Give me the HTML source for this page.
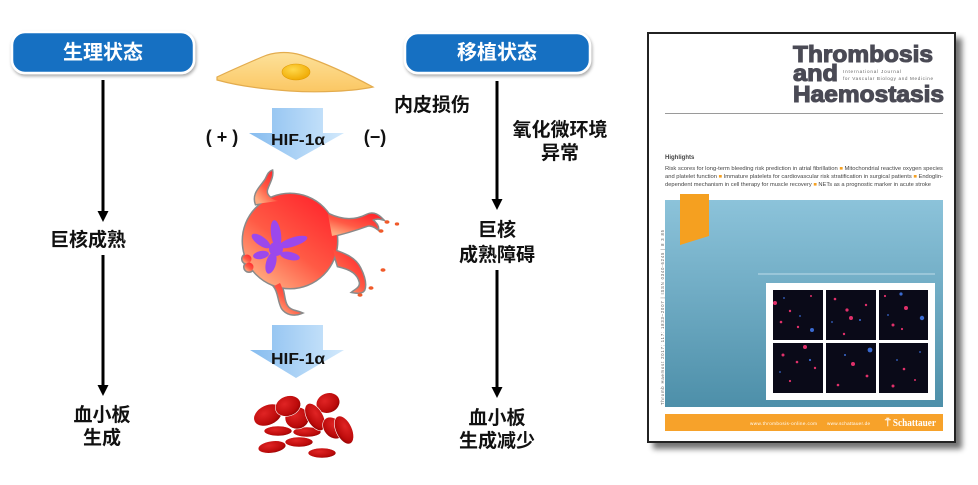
<!DOCTYPE html>
<html><head><meta charset="utf-8">
<style>
html,body{margin:0;padding:0;background:#fff;}
svg{display:block;}
.cn{font-family:"Liberation Sans","Noto Sans CJK SC",sans-serif;font-weight:700;}
</style></head>
<body>
<svg width="978" height="485" viewBox="0 0 978 485" xmlns="http://www.w3.org/2000/svg">
<defs>
  <linearGradient id="hif" x1="0" y1="0" x2="1" y2="0">
    <stop offset="0" stop-color="#86bcef"/>
    <stop offset="1" stop-color="#d2e9fc"/>
  </linearGradient>
  <linearGradient id="cellg" x1="0" y1="0" x2="0" y2="1">
    <stop offset="0" stop-color="#fde19a"/>
    <stop offset="1" stop-color="#fbc763"/>
  </linearGradient>
  <radialGradient id="nuc" cx="0.4" cy="0.35" r="0.7">
    <stop offset="0" stop-color="#ffd84a"/>
    <stop offset="1" stop-color="#efa800"/>
  </radialGradient>
  <linearGradient id="mkg" x1="0.85" y1="0.1" x2="0.2" y2="0.95">
    <stop offset="0" stop-color="#ff2a2e"/>
    <stop offset="0.55" stop-color="#ff5a45"/>
    <stop offset="1" stop-color="#ffab80"/>
  </linearGradient>
  <radialGradient id="rbc" cx="0.4" cy="0.35" r="0.75">
    <stop offset="0" stop-color="#e02424"/>
    <stop offset="0.7" stop-color="#bb0a0a"/>
    <stop offset="1" stop-color="#7e0000"/>
  </radialGradient>
  <linearGradient id="panel" x1="0" y1="0" x2="0" y2="1">
    <stop offset="0" stop-color="#8cc3da"/>
    <stop offset="1" stop-color="#4d8fa9"/>
  </linearGradient>
  <filter id="sh" x="-10%" y="-10%" width="130%" height="130%">
    <feGaussianBlur in="SourceAlpha" stdDeviation="3"/>
    <feOffset dx="6" dy="6" result="b"/>
    <feComponentTransfer><feFuncA type="linear" slope="0.55"/></feComponentTransfer>
    <feMerge><feMergeNode/><feMergeNode in="SourceGraphic"/></feMerge>
  </filter>
  <filter id="bsh" x="-10%" y="-20%" width="120%" height="150%">
    <feGaussianBlur in="SourceAlpha" stdDeviation="1.5"/>
    <feOffset dx="1" dy="2"/>
    <feComponentTransfer><feFuncA type="linear" slope="0.35"/></feComponentTransfer>
    <feMerge><feMergeNode/><feMergeNode in="SourceGraphic"/></feMerge>
  </filter>
  <g id="mk">
    <circle cx="290" cy="241" r="47"/>
    <path d="M256,204 C252,193 262,186 266,179 C268,175 269,172 272,171 C273,177 269,183 267,189 C265,195 270,199 278,201 Z"/>
    <path d="M328,214 C343,221 355,221 367,215 C373,212 378,215 382,219 C378,218 375,218 372,220 C376,223 378,226 378,229 C374,226 370,224 366,226 C355,230 345,233 332,236 Z"/>
    <path d="M333,250 C345,254 355,258 360,268 C365,278 366,285 364,290 C362,293 358,293 353,292 C357,289 361,287 360,282 C358,274 352,269 338,266 Z"/>
    <path d="M280,283 C285,292 283,300 287,306 C290,311 296,311 301,313 C294,316 286,314 282,308 C278,300 279,292 274,286 Z"/>
    <circle cx="247" cy="259" r="4.5"/>
    <circle cx="249" cy="267" r="4.5"/>
  </g>
</defs>

<!-- Left button -->
<g filter="url(#bsh)">
  <rect x="12" y="32" width="182" height="41" rx="13" fill="#1670c2" stroke="#ffffff" stroke-width="2.5"/>
</g>
<text x="103" y="59" class="cn" font-size="20" fill="#fff" text-anchor="middle">生理状态</text>

<!-- Right button -->
<g filter="url(#bsh)">
  <rect x="405" y="33" width="185" height="40" rx="13" fill="#1670c2" stroke="#ffffff" stroke-width="2.5"/>
</g>
<text x="497" y="59" class="cn" font-size="20" fill="#fff" text-anchor="middle">移植状态</text>

<!-- Left flow -->
<line x1="103" y1="80" x2="103" y2="213" stroke="#000" stroke-width="3"/>
<polygon points="97.5,211 108.5,211 103,222" fill="#000"/>
<text x="88" y="246" class="cn" font-size="19" fill="#111" text-anchor="middle">巨核成熟</text>
<line x1="103" y1="255" x2="103" y2="387" stroke="#000" stroke-width="3"/>
<polygon points="97.5,385 108.5,385 103,396" fill="#000"/>
<text x="102" y="421" class="cn" font-size="19" fill="#111" text-anchor="middle">血小板</text>
<text x="102" y="444" class="cn" font-size="19" fill="#111" text-anchor="middle">生成</text>

<!-- Right flow -->
<line x1="497" y1="81" x2="497" y2="201" stroke="#000" stroke-width="3"/>
<polygon points="491.5,199 502.5,199 497,210" fill="#000"/>
<text x="497" y="236" class="cn" font-size="19" fill="#111" text-anchor="middle">巨核</text>
<text x="497" y="261" class="cn" font-size="19" fill="#111" text-anchor="middle">成熟障碍</text>
<line x1="497" y1="270" x2="497" y2="389" stroke="#000" stroke-width="3"/>
<polygon points="491.5,387 502.5,387 497,398" fill="#000"/>
<text x="497" y="424" class="cn" font-size="19" fill="#111" text-anchor="middle">血小板</text>
<text x="497" y="447" class="cn" font-size="19" fill="#111" text-anchor="middle">生成减少</text>

<text x="432" y="111" class="cn" font-size="19" fill="#111" text-anchor="middle">内皮损伤</text>
<text x="560" y="136" class="cn" font-size="19" fill="#111" text-anchor="middle">氧化微环境</text>
<text x="560" y="159" class="cn" font-size="19" fill="#111" text-anchor="middle">异常</text>

<!-- Endothelial cell -->
<path d="M217,77 C232,70 248,63 262,57 C273,52 287,51 301,55 C322,62 347,73 373,87 C355,91 320,93 290,91 C260,89 235,85 217,80 Z" fill="url(#cellg)" stroke="#e3ac4e" stroke-width="1.2"/>
<ellipse cx="296" cy="72" rx="14" ry="8" fill="url(#nuc)" stroke="#e09a00" stroke-width="0.6"/>

<!-- HIF arrow 1 -->
<polygon points="272,108 323,108 323,133 344,133 296,160 249,133 272,133" fill="url(#hif)"/>
<text x="298" y="145" font-family="Liberation Sans, sans-serif" font-weight="700" font-size="16" fill="#111" text-anchor="middle" textLength="54" lengthAdjust="spacingAndGlyphs">HIF-1α</text>
<text x="222" y="143" font-family="Liberation Sans, sans-serif" font-weight="700" font-size="18" fill="#111" text-anchor="middle">( + )</text>
<text x="375" y="143" font-family="Liberation Sans, sans-serif" font-weight="700" font-size="18" fill="#111" text-anchor="middle">(−)</text>

<!-- Megakaryocyte -->
<use href="#mk" fill="none" stroke="#8a8a8a" stroke-width="3"/>
<use href="#mk" fill="url(#mkg)" stroke="none"/>
<g fill="#9b48ec">
  <ellipse cx="276" cy="234" rx="5" ry="14" transform="rotate(-8 276 234)"/>
  <ellipse cx="293" cy="242" rx="15" ry="4.5" transform="rotate(-18 293 242)"/>
  <ellipse cx="290" cy="256" rx="10" ry="4" transform="rotate(12 290 256)"/>
  <ellipse cx="271" cy="263" rx="5" ry="11" transform="rotate(15 271 263)"/>
  <ellipse cx="261" cy="241" rx="11" ry="4.5" transform="rotate(35 261 241)"/>
  <ellipse cx="261" cy="255" rx="8" ry="4" transform="rotate(-10 261 255)"/>
  <circle cx="276" cy="249" r="7"/>
</g>
<g fill="#f05a2a">
  <ellipse cx="387" cy="222" rx="2.5" ry="1.8"/>
  <ellipse cx="397" cy="224" rx="2.2" ry="1.6"/>
  <ellipse cx="381" cy="231" rx="2.5" ry="1.8"/>
  <ellipse cx="383" cy="270" rx="2.5" ry="1.8"/>
  <ellipse cx="371" cy="288" rx="2.5" ry="1.8"/>
  <ellipse cx="360" cy="295" rx="2.5" ry="1.8"/>
</g>

<!-- HIF arrow 2 -->
<polygon points="272,325 323,325 323,350 344,350 296,378 250,350 272,350" fill="url(#hif)"/>
<text x="298" y="364" font-family="Liberation Sans, sans-serif" font-weight="700" font-size="16" fill="#111" text-anchor="middle" textLength="54" lengthAdjust="spacingAndGlyphs">HIF-1α</text>

<!-- RBCs -->
<g fill="url(#rbc)" stroke="#fff" stroke-width="0.6">
  <ellipse cx="272" cy="447" rx="14" ry="6" transform="rotate(-8 272 447)"/>
  <ellipse cx="299" cy="442" rx="14" ry="5"/>
  <ellipse cx="322" cy="453" rx="14" ry="5"/>
  <ellipse cx="278" cy="431" rx="14" ry="5"/>
  <ellipse cx="307" cy="432" rx="14" ry="5"/>
  <ellipse cx="268" cy="415" rx="15" ry="10" transform="rotate(-25 268 415)"/>
  <ellipse cx="297" cy="418" rx="12" ry="11"/>
  <ellipse cx="288" cy="406" rx="13" ry="10" transform="rotate(-20 288 406)"/>
  <ellipse cx="328" cy="403" rx="12" ry="10" transform="rotate(-20 328 403)"/>
  <ellipse cx="315" cy="417" rx="15" ry="8" transform="rotate(60 315 417)"/>
  <ellipse cx="333" cy="428" rx="12" ry="9" transform="rotate(50 333 428)"/>
  <ellipse cx="344" cy="430" rx="15" ry="8" transform="rotate(65 344 430)"/>
</g>

<!-- Journal cover -->
<g filter="url(#sh)">
  <rect x="648" y="33" width="307" height="409" fill="#fff" stroke="#222" stroke-width="2"/>
</g>
<g font-family="Liberation Sans, sans-serif" fill="#4a4a55">
  <text x="793" y="62" font-size="23" font-weight="700" stroke="#4a4a55" stroke-width="1.1" textLength="140" lengthAdjust="spacingAndGlyphs">Thrombosis</text>
  <text x="793" y="81" font-size="23" font-weight="700" stroke="#4a4a55" stroke-width="1.1" textLength="45" lengthAdjust="spacingAndGlyphs">and</text>
  <text x="843" y="73" font-size="4.6" fill="#666" textLength="58">International Journal</text>
  <text x="843" y="80" font-size="4.6" fill="#666" textLength="90">for Vascular Biology and Medicine</text>
  <text x="793" y="102" font-size="23" font-weight="700" stroke="#4a4a55" stroke-width="1.1" textLength="151" lengthAdjust="spacingAndGlyphs">Haemostasis</text>
</g>
<line x1="665" y1="113.5" x2="943" y2="113.5" stroke="#9a9a9a" stroke-width="1"/>
<g font-family="Liberation Sans, sans-serif" fill="#444">
  <text x="665" y="159" font-size="6" font-weight="700">Highlights</text>
  <text x="665" y="170" font-size="5.3" textLength="278" lengthAdjust="spacingAndGlyphs">Risk scores for long-term bleeding risk prediction in atrial fibrillation <tspan fill="#f5a020">■</tspan> Mitochondrial reactive oxygen species</text>
  <text x="665" y="178" font-size="5.3" textLength="278" lengthAdjust="spacingAndGlyphs">and platelet function <tspan fill="#f5a020">■</tspan> Immature platelets for cardiovascular risk stratification in surgical patients <tspan fill="#f5a020">■</tspan> Endoglin-</text>
  <text x="665" y="186" font-size="5.3" textLength="266" lengthAdjust="spacingAndGlyphs">dependent mechanism in cell therapy for muscle recovery <tspan fill="#f5a020">■</tspan> NETs as a prognostic marker in acute stroke</text>
</g>
<rect x="665" y="200" width="278" height="207" fill="url(#panel)"/>
<polygon points="680,194 709,194 709,236 680,245" fill="#f5a020"/>
<line x1="758" y1="274" x2="935" y2="274" stroke="#d8ecf4" stroke-width="0.8"/>
<rect x="766" y="283" width="169" height="117" fill="#fff"/>
<g>
  <rect x="773" y="290" width="50" height="50" fill="#0a0a18"/>
  <rect x="826" y="290" width="50" height="50" fill="#0a0a18"/>
  <rect x="879" y="290" width="49" height="50" fill="#0a0a18"/>
  <rect x="773" y="343" width="50" height="50" fill="#0a0a18"/>
  <rect x="826" y="343" width="50" height="50" fill="#0a0a18"/>
  <rect x="879" y="343" width="49" height="50" fill="#0a0a18"/>
</g>
<g fill="#e0306a">
  <circle cx="775" cy="303" r="2"/><circle cx="790" cy="311" r="1.2"/><circle cx="781" cy="322" r="1.3"/><circle cx="798" cy="327" r="1.2"/><circle cx="811" cy="296" r="1"/>
  <circle cx="847" cy="310" r="1.6"/><circle cx="835" cy="299" r="1.3"/><circle cx="851" cy="318" r="2"/><circle cx="866" cy="305" r="1.2"/><circle cx="844" cy="334" r="1.2"/>
  <circle cx="906" cy="308" r="2"/><circle cx="893" cy="325" r="1.5"/><circle cx="885" cy="296" r="1.1"/><circle cx="902" cy="329" r="1.1"/>
  <circle cx="783" cy="355" r="1.5"/><circle cx="805" cy="347" r="2"/><circle cx="797" cy="362" r="1.3"/><circle cx="790" cy="381" r="1.1"/><circle cx="815" cy="368" r="1.2"/>
  <circle cx="853" cy="364" r="2"/><circle cx="867" cy="376" r="1.4"/><circle cx="838" cy="385" r="1.3"/>
  <circle cx="904" cy="369" r="1.3"/><circle cx="893" cy="386" r="1.5"/><circle cx="915" cy="380" r="1"/>
</g>
<g fill="#3a6ad0">
  <circle cx="812" cy="330" r="2"/><circle cx="784" cy="298" r="0.9"/><circle cx="800" cy="316" r="0.9"/>
  <circle cx="860" cy="320" r="1"/><circle cx="832" cy="322" r="0.9"/>
  <circle cx="922" cy="318" r="2.2"/><circle cx="901" cy="294" r="1.6"/><circle cx="888" cy="315" r="0.9"/>
  <circle cx="810" cy="360" r="1.1"/><circle cx="780" cy="372" r="0.9"/>
  <circle cx="870" cy="350" r="2.4"/><circle cx="845" cy="355" r="1"/>
  <circle cx="897" cy="360" r="0.9"/><circle cx="920" cy="352" r="0.9"/>
</g>
<text transform="translate(664 405) rotate(-90)" font-family="Liberation Sans, sans-serif" font-size="4.2" fill="#555" textLength="175">Thromb Haemost 2017; 117: 1833–2007  |  ISSN 0340-6245  |  8 3 85</text>
<rect x="665" y="414" width="278" height="17" fill="#f7a22a"/>
<text x="750" y="425" font-family="Liberation Sans, sans-serif" font-size="4.6" fill="#fff" textLength="67">www.thrombosis-online.com</text>
<text x="827" y="425" font-family="Liberation Sans, sans-serif" font-size="4.6" fill="#fff" textLength="43">www.schattauer.de</text>
<text x="885" y="426" font-family="Liberation Serif, serif" font-size="10" font-weight="700" fill="#fff" textLength="51" lengthAdjust="spacingAndGlyphs">⍑ Schattauer</text>
</svg>
</body></html>
